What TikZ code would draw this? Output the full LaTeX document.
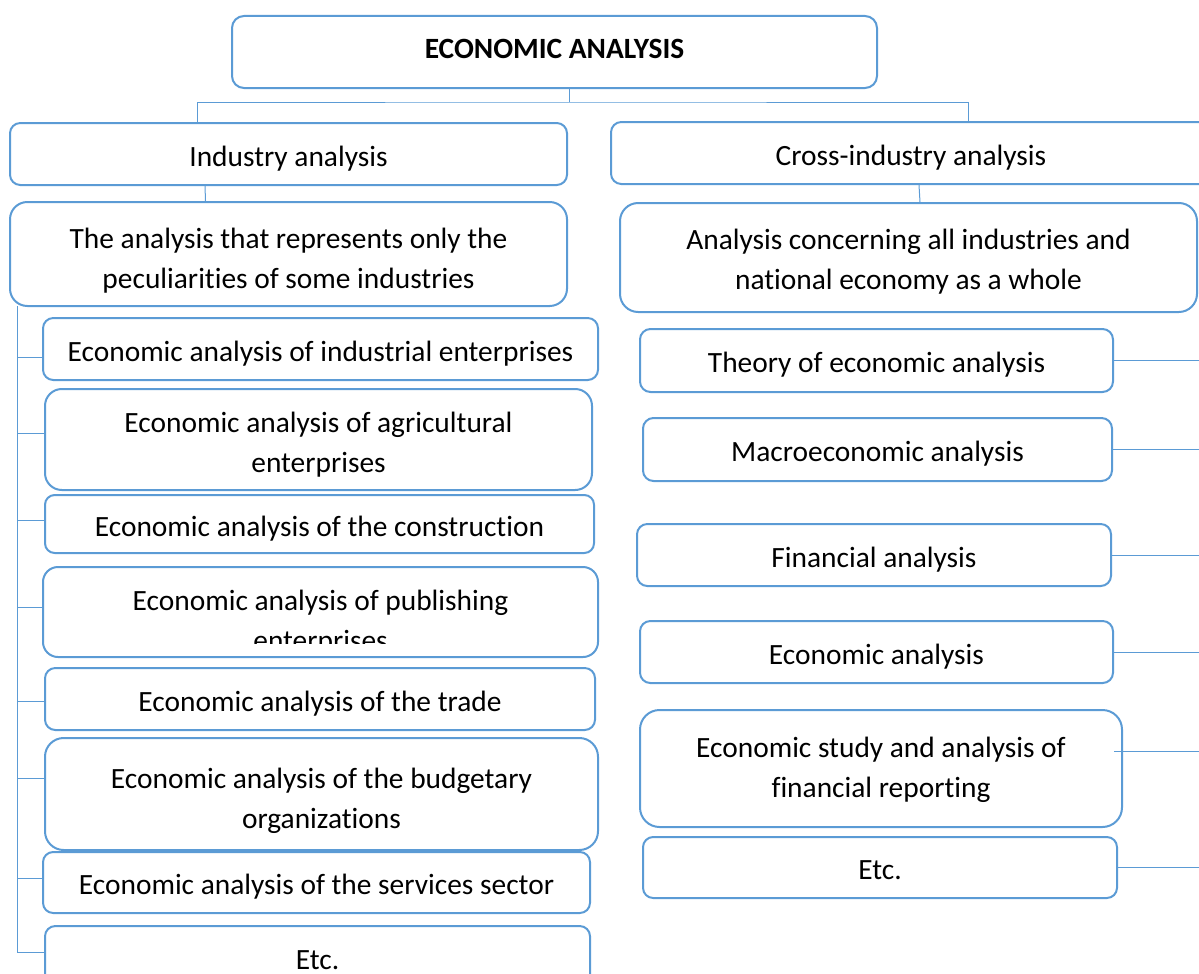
\documentclass[tikz,border=0pt]{standalone}
\usepackage{fontspec}
\setmainfont[Ligatures = NoCommon]{Carlito}
\usepackage{tikz}
\tikzset{>=latex}
\usetikzlibrary{calc}
\definecolor{boxline}{RGB}{91,155,213}
\newcommand{\boxstrut}{\rule[-6pt]{0pt}{36pt}}
\newcommand{\topstrut}[1][34pt]{\rule{0pt}{#1}}
\newcommand{\titlestrut}{\rule[-6pt]{0pt}{0pt}}
\tikzset{
    plainbox/.style 2 args = {draw = boxline, line width = 2pt, fill = white, inner sep = 0pt, align = center,
        minimum width = #1pt, minimum height = #2pt, rounded corners = 0.1667*#2pt},
    box/.style 2 args = {plainbox = {#1}{#2}, execute at begin node = \boxstrut, execute at end node = \boxstrut},
    link/.style = {boxline, line width = 1pt},
}

\begin{document}
\begin{tikzpicture}[x = 1pt, y = -1pt, font = \fontsize{29.4}{40}\selectfont]
            \useasboundingbox (0, 0) rectangle (1199, 974);
            \node[plainbox = {645}{72}, execute at begin node = \titlestrut, font = \fontsize{29.4}{40}\selectfont\bfseries] (econ) at (554.5, 52) {ECONOMIC ANALYSIS};
            \node[box = {557}{62}] (industry) at (288.5, 154) {Industry analysis};
            \node[box = {600}{62}] (cross) at (911, 153) {Cross-industry analysis};
            \node[plainbox = {557}{104}] (pecul) at (288.5, 254) {\topstrut The analysis that represents only the\\peculiarities of some industries};
            \node[plainbox = {577}{109}] (whole) at (908.5, 257.5) {\topstrut[28pt]Analysis concerning all industries and\\national economy as a whole};
            \node[box = {555}{62}] (indust) at (320.5, 349) {Economic analysis of industrial enterprises};
            \node[plainbox = {547}{101}] (agri) at (318.5, 439.5) {\topstrut[30pt]Economic analysis of agricultural\\enterprises};
            \node[box = {549}{58}] (constr) at (319.5, 524) {Economic analysis of the construction};
            \node[plainbox = {555}{90}] (publ) at (320.5, 612) {};
            \begin{scope}
                \clip (43, 567) rectangle (598, 643);
                \node[anchor = base, inner sep = 0pt] (publ-a) at (320.5, 610) {Economic analysis of publishing};
                \node[anchor = base, inner sep = 0pt] (publ-b) at (320.5, 650) {enterprises};
            \end{scope}
            \node[box = {550}{62}] (trade) at (320, 699) {Economic analysis of the trade};
            \node[plainbox = {553}{112}] (budget) at (321.5, 794) {\topstrut Economic analysis of the budgetary\\organizations};
            \node[box = {547}{61}] (serv) at (316.5, 882.5) {Economic analysis of the services sector};
            \node[box = {545}{62}] (etcl) at (317.5, 957) {Etc.};
            \node[box = {473}{63}] (theory) at (876.5, 360.5) {Theory of economic analysis};
            \node[box = {469}{63}] (macro) at (877.5, 449.5) {Macroeconomic analysis};
            \node[box = {474}{62}] (fin) at (874, 555) {Financial analysis};
            \node[box = {473}{62}] (econan) at (876.5, 652) {Economic analysis};
            \node[plainbox = {482}{117}] (study) at (881, 768.5) {\topstrut[24pt]Economic study and analysis of\\financial reporting};
            \node[box = {474}{61}] (etcr) at (880, 867.5) {Etc.};
            \coordinate (hub) at (569, 102);
            \draw[link] (hub) -- (hub |- econ.south);
            \draw[link] ([xshift = -91.5pt]industry.north) |- (hub) -| ([xshift = 57pt]cross.north);
            \draw[link] ([xshift = -83.5pt]industry.south) -- ([xshift = -83pt]pecul.north);
            \draw[link] ([xshift = 8pt]cross.south) -- ([xshift = 11.5pt]whole.north);
            \coordinate (spine) at (17, 306);
            \foreach \b/\s in {indust/-8pt, agri/6.5pt, constr/4pt, publ/5pt, trade/-2pt, budget/16pt, serv/4.5pt, etcl/5pt}
                \draw[link] ([yshift = \s]\b.west) -| (spine);
            \coordinate (rim) at (1199, 0);
            \foreach \b in {theory, macro, fin, econan, etcr}
                \draw[link] (\b.east) -- (\b.east -| rim);
            \coordinate (studyrim) at (1199, 751);
            \draw[link] ([xshift = -9pt, yshift = 17.5pt]study.east) -- (studyrim);
        \end{tikzpicture}
\end{document}
